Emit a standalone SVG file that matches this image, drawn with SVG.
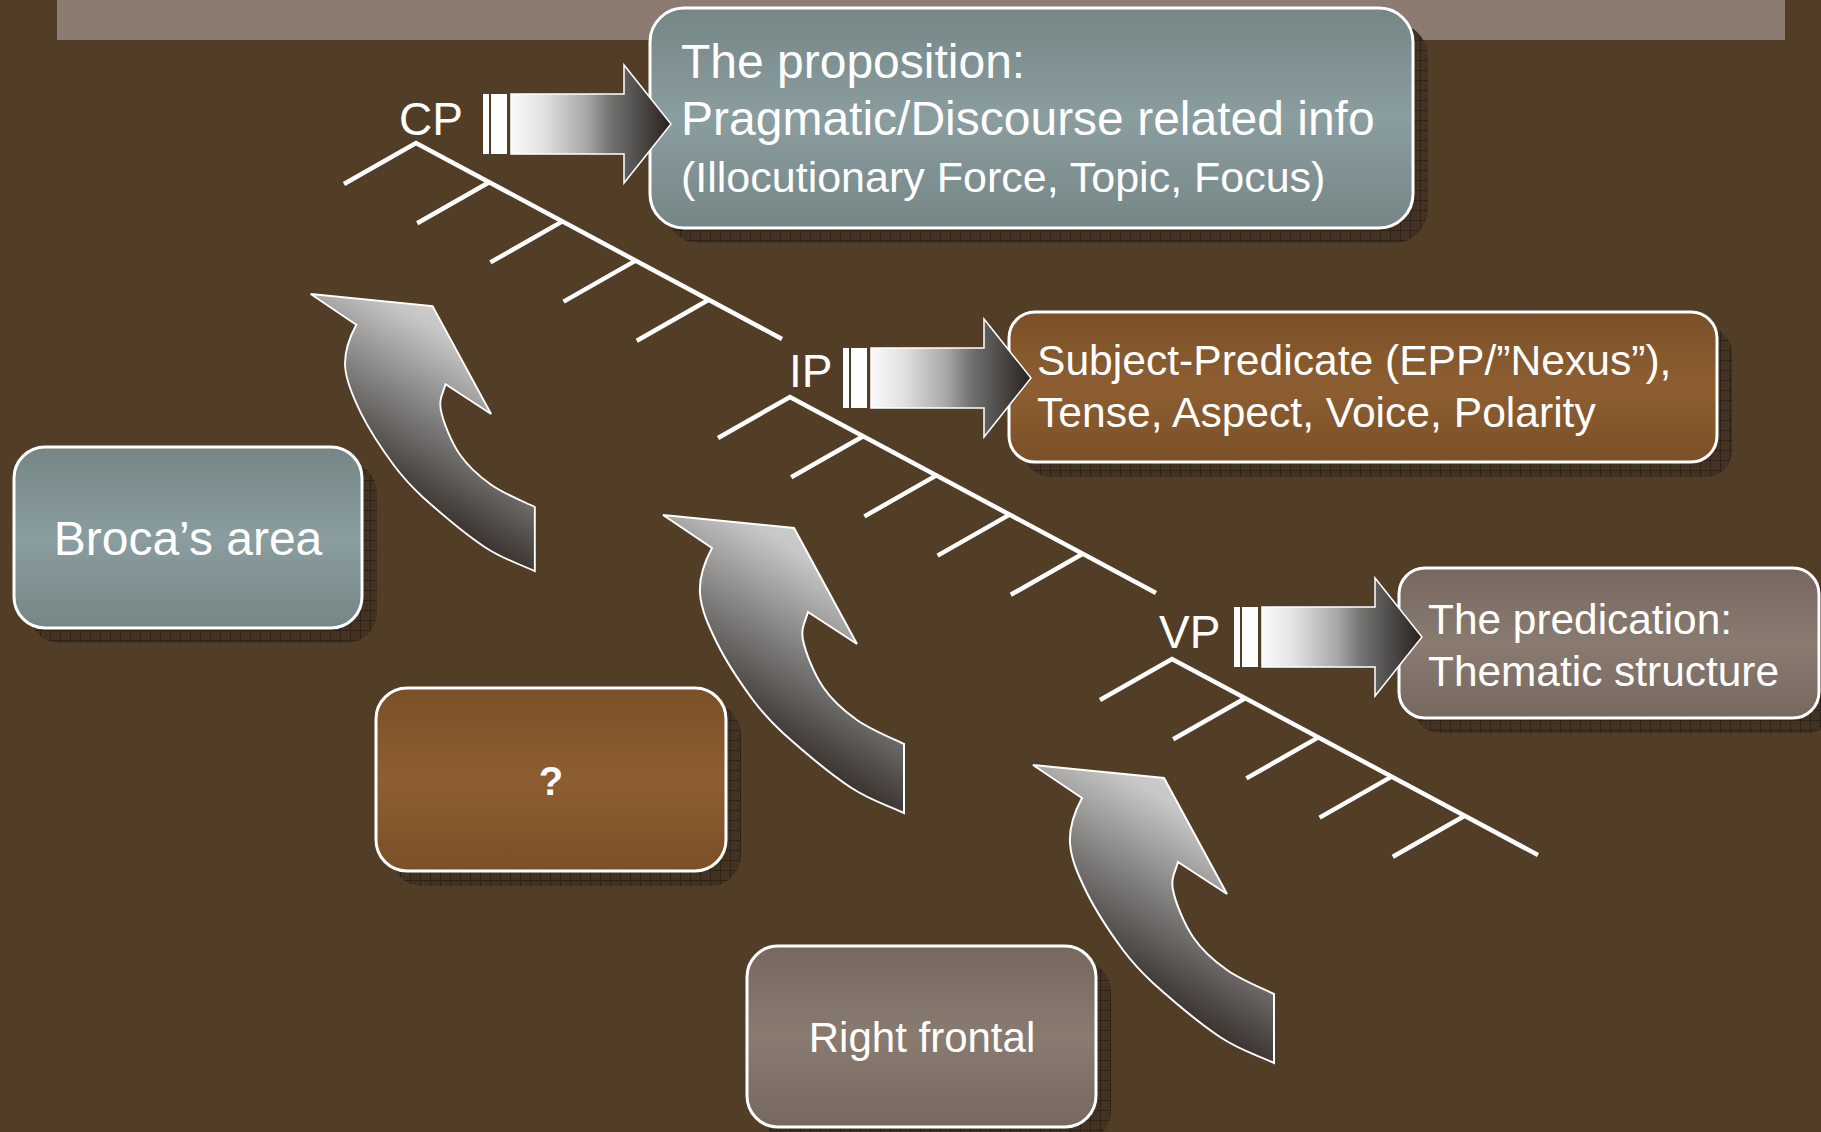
<svg xmlns="http://www.w3.org/2000/svg" xmlns:xlink="http://www.w3.org/1999/xlink" width="1821" height="1132" viewBox="0 0 1821 1132">
  <style>
    .txt { font-family: "Liberation Sans", Arial, sans-serif; fill: #ffffff; }
    .box { stroke: #ffffff; stroke-width: 3; }
    .shadow { fill: url(#shadowGrid); }
    .branch { fill: none; stroke: #ffffff; stroke-width: 4.5; stroke-linecap: butt; stroke-linejoin: miter; }
    .stripe { fill: #ffffff; }
    .shaft { fill: url(#gStripe); stroke: #ffffff; stroke-width: 1.5; }
    .bend { fill: url(#gCurve); stroke: #ffffff; stroke-width: 2; }
  </style>
  <defs>
    <linearGradient id="gSlate" x1="0" y1="0" x2="0" y2="1">
      <stop offset="0" stop-color="#768687"/>
      <stop offset="0.5" stop-color="#8A9D9F"/>
      <stop offset="1" stop-color="#768687"/>
    </linearGradient>
    <linearGradient id="gBrown" x1="0" y1="0" x2="0" y2="1">
      <stop offset="0" stop-color="#7B5028"/>
      <stop offset="0.5" stop-color="#8D5E31"/>
      <stop offset="1" stop-color="#7B5028"/>
    </linearGradient>
    <linearGradient id="gTaupe" x1="0" y1="0" x2="0" y2="1">
      <stop offset="0" stop-color="#76685F"/>
      <stop offset="0.5" stop-color="#8A7B71"/>
      <stop offset="1" stop-color="#76685F"/>
    </linearGradient>
    <linearGradient id="gStripe" x1="0" y1="0" x2="1" y2="0">
      <stop offset="0" stop-color="#FAFAFA"/>
      <stop offset="0.2" stop-color="#E2E2E2"/>
      <stop offset="0.47" stop-color="#A8A8A8"/>
      <stop offset="0.62" stop-color="#737373"/>
      <stop offset="0.8" stop-color="#4E4C4A"/>
      <stop offset="1" stop-color="#2A201C"/>
    </linearGradient>
    <linearGradient id="gCurve" x1="0.8" y1="0" x2="0.3" y2="1">
      <stop offset="0" stop-color="#DCDCDC"/>
      <stop offset="0.2" stop-color="#C6C6C6"/>
      <stop offset="0.5" stop-color="#767472"/>
      <stop offset="0.8" stop-color="#2C231F"/>
      <stop offset="1" stop-color="#2A201C"/>
    </linearGradient>
    <pattern id="shadowGrid" width="10" height="10" patternUnits="userSpaceOnUse">
      <rect width="10" height="10" fill="#433221"/>
      <path d="M0 0.5H10M0.5 0V10" stroke="#2E2217" stroke-width="1"/>
    </pattern>

    <!-- syntactic tree fragment, apex at origin -->
    <g id="tree">
      <path class="branch" d="M-72 41 L0 0 L366 196"/>
      <path class="branch" d="M73.2 39.2 L1.2 80.2 M146.4 78.4 L74.4 119.4 M219.6 117.6 L147.6 158.6 M292.8 156.8 L220.8 197.8"/>
    </g>

    <!-- striped block arrow, origin at left stripe / vertical centre -->
    <g id="striped">
      <rect class="stripe" x="0" y="-30" width="6" height="60"/>
      <rect class="stripe" x="8" y="-30" width="16" height="60"/>
      <path class="shaft" d="M28 -30 H141 V-59 L188 0 L141 59 V30 H28 Z"/>
    </g>

    <!-- curved up-arrow, origin at the left barb of the head -->
    <path id="bent" class="bend" d="M0 0 L131 13 L194 129 L145 97
      C142.7 105.8 137.5 112.5 140 125
      C142.5 137.5 151 158.7 160 172
      C169 185.3 180.5 195.5 194 205
      C207.5 214.5 225 221.5 241 229
      L241 298
      C222.3 289.3 207 285.3 187 272
      C167 258.7 136.2 232.5 120 218
      C105 204 99 197 90 185
      C79 170 62.8 145.8 54 128
      C45.2 110.2 38 94 37 78
      C36 62 42 46 49 33 Z"/>
  </defs>

  <!-- backdrop -->
  <rect width="1821" height="1132" fill="#523E27"/>
  <rect x="57" y="0" width="1728" height="40" fill="#8C7B70"/>

  <!-- trees with phrase labels -->
  <g id="cp-tree">
    <use xlink:href="#tree" transform="translate(416 143)"/>
    <text class="txt" x="399" y="135" font-size="46">CP</text>
  </g>
  <g id="ip-tree">
    <use xlink:href="#tree" transform="translate(790 397)"/>
    <text class="txt" x="789" y="387" font-size="46">IP</text>
  </g>
  <g id="vp-tree">
    <use xlink:href="#tree" transform="translate(1172 659)"/>
    <text class="txt" x="1159" y="648" font-size="46">VP</text>
  </g>

  <!-- information boxes -->
  <g id="node-proposition">
    <rect class="shadow" x="665" y="23" width="763" height="220" rx="34"/>
    <rect class="box" x="650" y="8" width="763" height="220" rx="34" fill="url(#gSlate)"/>
    <text class="txt" x="681" y="78" font-size="48">The proposition:</text>
    <text class="txt" x="681" y="135" font-size="48">Pragmatic/Discourse related info</text>
    <text class="txt" x="681" y="192" font-size="43">(Illocutionary Force, Topic, Focus)</text>
  </g>
  <g id="node-inflection">
    <rect class="shadow" x="1024" y="327" width="708" height="150" rx="26"/>
    <rect class="box" x="1009" y="312" width="708" height="150" rx="26" fill="url(#gBrown)"/>
    <text class="txt" x="1037" y="375" font-size="42.6">Subject-Predicate (EPP/”Nexus”),</text>
    <text class="txt" x="1037" y="427" font-size="42.6">Tense, Aspect, Voice, Polarity</text>
  </g>
  <g id="node-predication">
    <rect class="shadow" x="1414" y="583" width="420" height="150" rx="26"/>
    <rect class="box" x="1399" y="568" width="420" height="150" rx="26" fill="url(#gTaupe)"/>
    <text class="txt" x="1428" y="634" font-size="42.4">The predication:</text>
    <text class="txt" x="1428" y="686" font-size="42.4">Thematic structure</text>
  </g>

  <!-- brain region boxes -->
  <g id="node-broca">
    <rect class="shadow" x="29" y="462" width="348" height="181" rx="31"/>
    <rect class="box" x="14" y="447" width="348" height="181" rx="31" fill="url(#gSlate)"/>
    <text class="txt" x="188" y="555" font-size="48" text-anchor="middle">Broca’s area</text>
  </g>
  <g id="node-unknown">
    <rect class="shadow" x="391" y="703" width="350" height="183" rx="31"/>
    <rect class="box" x="376" y="688" width="350" height="183" rx="31" fill="url(#gBrown)"/>
    <text class="txt" x="551" y="795" font-size="40" font-weight="bold" text-anchor="middle">?</text>
  </g>
  <g id="node-right-frontal">
    <rect class="shadow" x="762" y="961" width="349" height="181" rx="31"/>
    <rect class="box" x="747" y="946" width="349" height="181" rx="31" fill="url(#gTaupe)"/>
    <text class="txt" x="922" y="1052" font-size="42" text-anchor="middle">Right frontal</text>
  </g>

  <!-- connectors -->
  <g id="connectors">
    <use xlink:href="#striped" transform="translate(483 124)"/>
    <use xlink:href="#striped" transform="translate(843 378)"/>
    <use xlink:href="#striped" transform="translate(1234 637)"/>
    <use xlink:href="#bent" transform="translate(310.7 294) scale(0.93)"/>
    <use xlink:href="#bent" transform="translate(663 515)"/>
    <use xlink:href="#bent" transform="translate(1033 765)"/>
  </g>
</svg>
